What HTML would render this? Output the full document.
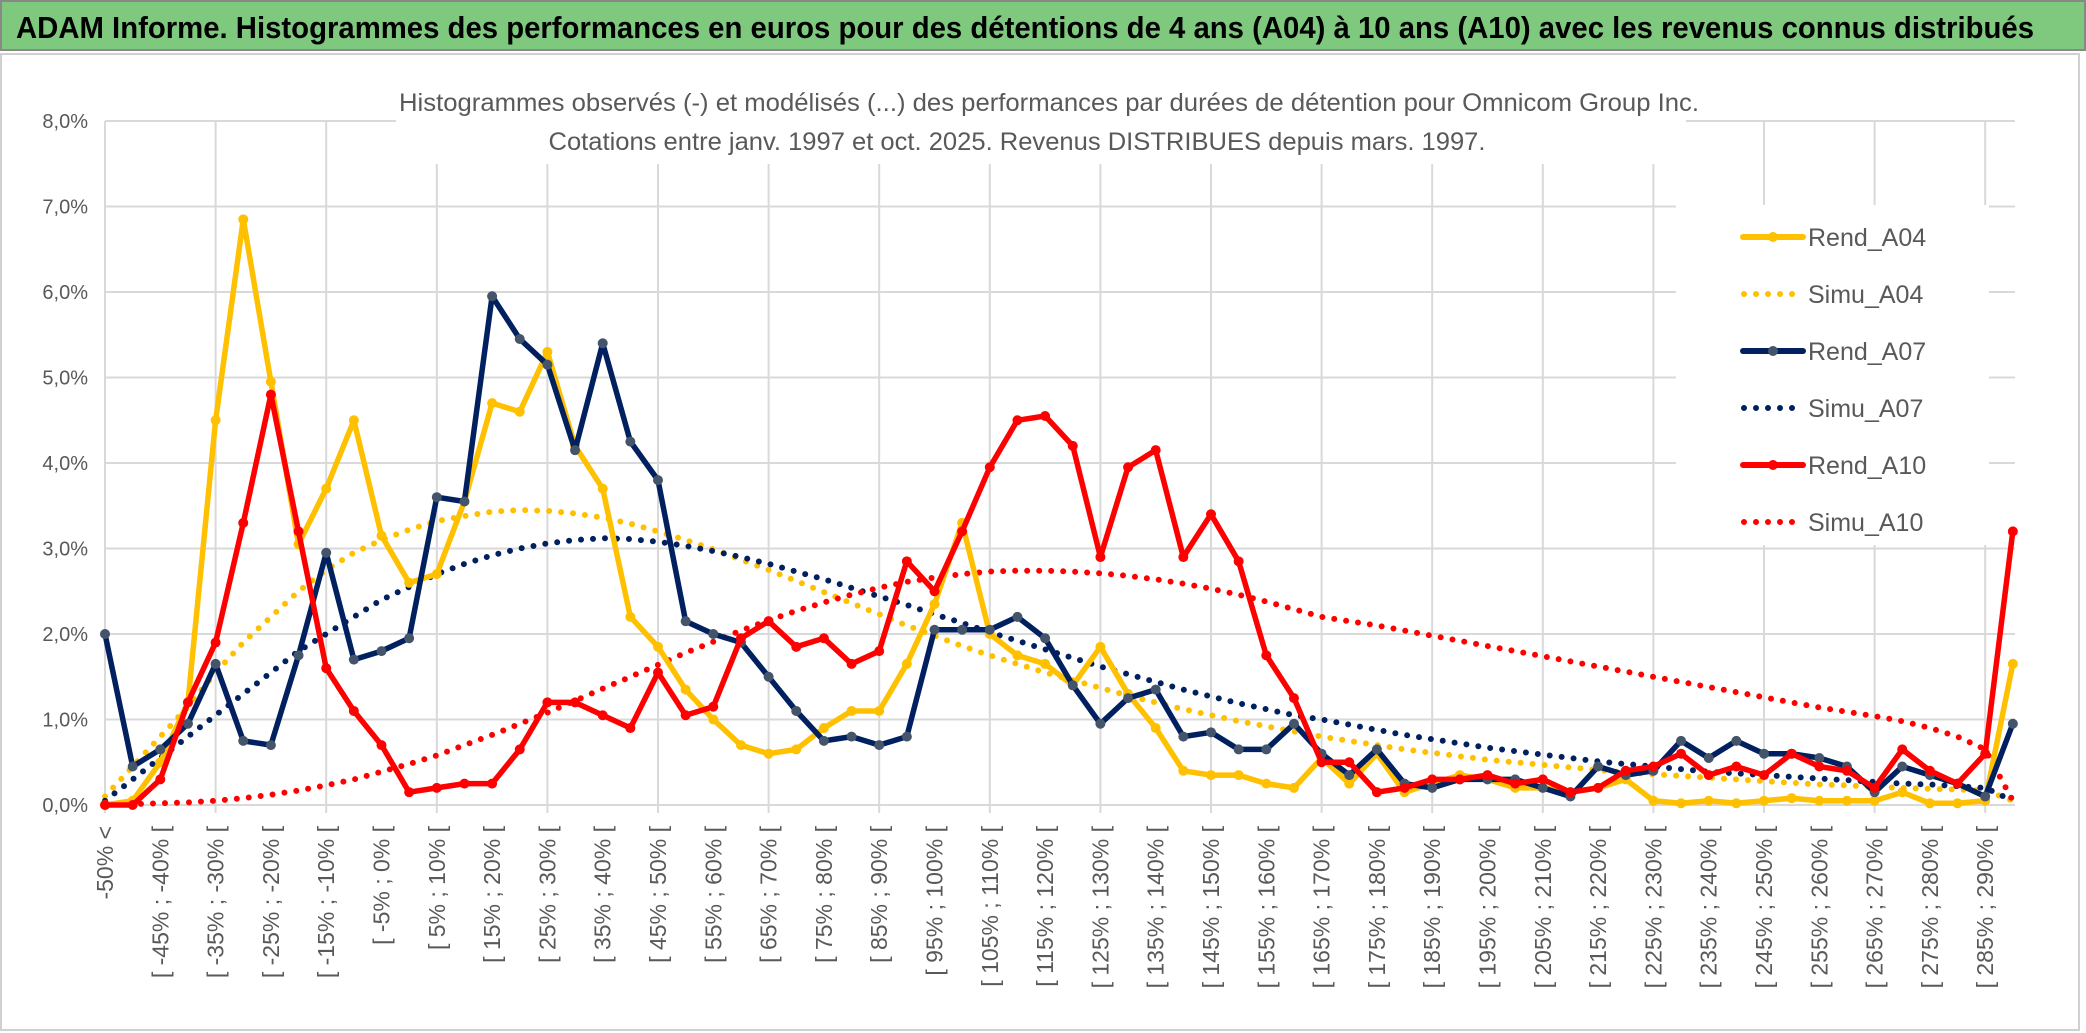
<!DOCTYPE html>
<html><head><meta charset="utf-8"><style>
html,body{margin:0;padding:0;background:#fff;}
svg{display:block;font-family:"Liberation Sans",sans-serif;}
</style></head><body>
<svg id="chart" width="2086" height="1033" viewBox="0 0 2086 1033" xmlns="http://www.w3.org/2000/svg">
<rect x="0" y="0" width="2086" height="1033" fill="#fff"/>
<rect x="1" y="1" width="2084" height="49" fill="#7fc97f" stroke="#888" stroke-width="2"/>
<text x="16" y="38" font-size="31" font-weight="bold" fill="#000" textLength="2018" lengthAdjust="spacingAndGlyphs">ADAM Informe. Histogrammes des performances en euros pour des détentions de 4 ans (A04) à 10 ans (A10) avec les revenus connus distribués</text>
<rect x="1" y="54" width="2078" height="976" fill="none" stroke="#d0d0d0" stroke-width="2"/>
<g id="grid"></g>
<rect x="396" y="60" width="1290" height="104" fill="#fff"/>
<text x="1049" y="111" font-size="25" fill="#595959" text-anchor="middle" textLength="1300" lengthAdjust="spacingAndGlyphs">Histogrammes observés (-) et modélisés (...) des performances par durées de détention pour Omnicom Group Inc.</text>
<text x="1017" y="150" font-size="25" fill="#595959" text-anchor="middle" textLength="937" lengthAdjust="spacingAndGlyphs">Cotations entre janv. 1997 et oct. 2025. Revenus DISTRIBUES depuis mars. 1997.</text>
<g id="axes"></g>
<g id="series"></g>
<rect x="1676" y="205" width="313" height="340" fill="#fff"/>
<g id="legend"></g>
</svg>
<script>
const categories = ["-50% <","[ -50% ; -45% [","[ -45% ; -40% [","[ -40% ; -35% [","[ -35% ; -30% [","[ -30% ; -25% [","[ -25% ; -20% [","[ -20% ; -15% [","[ -15% ; -10% [","[ -10% ; -5% [","[ -5% ; 0% [","[ 0% ; 5% [","[ 5% ; 10% [","[ 10% ; 15% [","[ 15% ; 20% [","[ 20% ; 25% [","[ 25% ; 30% [","[ 30% ; 35% [","[ 35% ; 40% [","[ 40% ; 45% [","[ 45% ; 50% [","[ 50% ; 55% [","[ 55% ; 60% [","[ 60% ; 65% [","[ 65% ; 70% [","[ 70% ; 75% [","[ 75% ; 80% [","[ 80% ; 85% [","[ 85% ; 90% [","[ 90% ; 95% [","[ 95% ; 100% [","[ 100% ; 105% [","[ 105% ; 110% [","[ 110% ; 115% [","[ 115% ; 120% [","[ 120% ; 125% [","[ 125% ; 130% [","[ 130% ; 135% [","[ 135% ; 140% [","[ 140% ; 145% [","[ 145% ; 150% [","[ 150% ; 155% [","[ 155% ; 160% [","[ 160% ; 165% [","[ 165% ; 170% [","[ 170% ; 175% [","[ 175% ; 180% [","[ 180% ; 185% [","[ 185% ; 190% [","[ 190% ; 195% [","[ 195% ; 200% [","[ 200% ; 205% [","[ 205% ; 210% [","[ 210% ; 215% [","[ 215% ; 220% [","[ 220% ; 225% [","[ 225% ; 230% [","[ 230% ; 235% [","[ 235% ; 240% [","[ 240% ; 245% [","[ 245% ; 250% [","[ 250% ; 255% [","[ 255% ; 260% [","[ 260% ; 265% [","[ 265% ; 270% [","[ 270% ; 275% [","[ 275% ; 280% [","[ 280% ; 285% [","[ 285% ; 290% [","> 290%"];
const yTicks = [0,1,2,3,4,5,6,7,8];
const yTickLabels = ["0,0%","1,0%","2,0%","3,0%","4,0%","5,0%","6,0%","7,0%","8,0%"];
const rendA04 = [0,0.05,0.5,1.2,4.5,6.85,4.95,3.05,3.7,4.5,3.15,2.6,2.7,3.55,4.7,4.6,5.3,4.2,3.7,2.2,1.85,1.35,1.0,0.7,0.6,0.65,0.9,1.1,1.1,1.65,2.35,3.3,2.0,1.75,1.65,1.4,1.85,1.3,0.9,0.4,0.35,0.35,0.25,0.2,0.55,0.25,0.6,0.15,0.25,0.35,0.3,0.2,0.2,0.15,0.2,0.3,0.05,0.02,0.05,0.02,0.05,0.08,0.05,0.05,0.05,0.15,0.02,0.02,0.05,1.65];
const simuA04 = [0.1,0.45,0.8,1.15,1.55,1.9,2.2,2.5,2.75,2.95,3.1,3.22,3.32,3.38,3.43,3.45,3.44,3.41,3.36,3.29,3.2,3.1,2.99,2.87,2.75,2.62,2.49,2.36,2.23,2.1,1.98,1.86,1.75,1.65,1.55,1.46,1.37,1.28,1.2,1.12,1.05,0.98,0.92,0.86,0.8,0.75,0.7,0.65,0.61,0.57,0.53,0.5,0.47,0.44,0.41,0.38,0.36,0.34,0.32,0.3,0.28,0.26,0.24,0.23,0.21,0.2,0.19,0.18,0.17,0.05];
const rendA07 = [2.0,0.45,0.65,0.95,1.65,0.75,0.7,1.75,2.95,1.7,1.8,1.95,3.6,3.55,5.95,5.45,5.15,4.15,5.4,4.25,3.8,2.15,2.0,1.9,1.5,1.1,0.75,0.8,0.7,0.8,2.05,2.05,2.05,2.2,1.95,1.4,0.95,1.25,1.35,0.8,0.85,0.65,0.65,0.95,0.6,0.35,0.65,0.25,0.2,0.3,0.3,0.3,0.2,0.1,0.45,0.35,0.4,0.75,0.55,0.75,0.6,0.6,0.55,0.45,0.15,0.45,0.35,0.25,0.1,0.95];
const simuA07 = [0.05,0.3,0.55,0.8,1.05,1.3,1.55,1.8,2.0,2.2,2.4,2.55,2.7,2.82,2.92,3.0,3.06,3.1,3.12,3.11,3.08,3.03,2.97,2.9,2.82,2.73,2.64,2.54,2.44,2.34,2.23,2.13,2.02,1.92,1.82,1.72,1.62,1.53,1.44,1.35,1.27,1.19,1.12,1.05,1.0,0.94,0.88,0.82,0.77,0.72,0.67,0.63,0.59,0.55,0.51,0.48,0.45,0.42,0.39,0.37,0.35,0.33,0.31,0.29,0.27,0.25,0.24,0.22,0.2,0.05];
const rendA10 = [0,0,0.3,1.2,1.9,3.3,4.8,3.2,1.6,1.1,0.7,0.15,0.2,0.25,0.25,0.65,1.2,1.2,1.05,0.9,1.55,1.05,1.15,1.95,2.15,1.85,1.95,1.65,1.8,2.85,2.5,3.2,3.95,4.5,4.55,4.2,2.9,3.95,4.15,2.9,3.4,2.85,1.75,1.25,0.5,0.5,0.15,0.2,0.3,0.3,0.35,0.25,0.3,0.15,0.2,0.4,0.45,0.6,0.35,0.45,0.35,0.6,0.45,0.4,0.2,0.65,0.4,0.25,0.6,3.2];
const simuA10 = [0,0.01,0.02,0.03,0.05,0.08,0.12,0.17,0.23,0.3,0.39,0.48,0.58,0.7,0.82,0.95,1.08,1.22,1.36,1.5,1.64,1.78,1.91,2.04,2.16,2.27,2.37,2.46,2.54,2.61,2.66,2.7,2.73,2.74,2.74,2.73,2.71,2.68,2.64,2.59,2.53,2.46,2.38,2.29,2.2,2.15,2.1,2.04,1.98,1.92,1.86,1.8,1.74,1.68,1.62,1.56,1.5,1.44,1.38,1.32,1.26,1.2,1.14,1.09,1.04,0.98,0.9,0.8,0.65,0.05];
const seriesNames = ["Rend_A04","Simu_A04","Rend_A07","Simu_A07","Rend_A10","Simu_A10"];

const NS = "http://www.w3.org/2000/svg";
const X0 = 105, DX = 27.65, Y0 = 805, DY = 85.5, XR = 2015;
function xPos(i){ return X0 + i*DX; }
function yPos(v){ return Y0 - v*DY; }
function mk(tag, attrs, parent){ const e = document.createElementNS(NS, tag); for (const k in attrs) e.setAttribute(k, attrs[k]); parent.appendChild(e); return e; }

const grid = document.getElementById('grid');
yTicks.forEach((t) => {
  const l = mk('line', {x1: X0, x2: XR, y1: yPos(t), y2: yPos(t), stroke: '#d9d9d9', 'stroke-width': 2}, grid);
  
  
});
for (let i = 0; i < categories.length; i += 4) {
  const l = mk('line', {x1: xPos(i), x2: xPos(i), y1: yPos(8), y2: Y0 + 8, stroke: '#d9d9d9', 'stroke-width': 2}, grid);
  
  
}

const axes = document.getElementById('axes');
yTicks.forEach((t, k) => {
  const tx = mk('text', {x: 88, y: yPos(t) + 7, 'text-anchor': 'end', 'font-size': 20, fill: '#595959'}, axes);
  tx.textContent = yTickLabels[k];
  
  
});
for (let i = 0; i < categories.length; i += 2) {
  const x = xPos(i) + 8;
  const tx = mk('text', {x: x, y: 826, transform: 'rotate(-90 ' + x + ' 826)', 'text-anchor': 'end', 'font-size': 23, fill: '#595959'}, axes);
  tx.textContent = categories[i];
  
  
}

const S = document.getElementById('series');
function pts(arr){ return arr.map((v, i) => xPos(i).toFixed(1) + ',' + yPos(v).toFixed(1)).join(' '); }
function dotted(arr, color, name){
  const p = mk('polyline', {points: pts(arr), fill: 'none', stroke: color, 'stroke-width': 6, 'stroke-linecap': 'round', 'stroke-dasharray': '0 12'}, S);
  
  
}
function solid(arr, color, mcolor, name){
  const p = mk('polyline', {points: pts(arr), fill: 'none', stroke: color, 'stroke-width': 5.5, 'stroke-linejoin': 'round'}, S);
  
  
  arr.forEach((v, i) => {
    const c = mk('circle', {cx: xPos(i), cy: yPos(v), r: 5, fill: mcolor}, S);
    
    
  });
}
dotted(simuA04, '#ffc000', 'simu-a04-line');
dotted(simuA07, '#002060', 'simu-a07-line');
dotted(simuA10, '#ff0000', 'simu-a10-line');
solid(rendA04, '#ffc000', '#ffc000', 'rend-a04');
solid(rendA07, '#002060', '#44546a', 'rend-a07');
solid(rendA10, '#ff0000', '#ff0000', 'rend-a10');

const L = document.getElementById('legend');
const legendColors = ['#ffc000','#ffc000','#002060','#002060','#ff0000','#ff0000'];
const legendMarker = ['#ffc000',null,'#44546a',null,'#ff0000',null];
seriesNames.forEach((n, k) => {
  const y = 237 + k*57;
  if (k % 2 === 0) {
    const l = mk('line', {x1: 1743, x2: 1803, y1: y, y2: y, stroke: legendColors[k], 'stroke-width': 6, 'stroke-linecap': 'round'}, L);
    
    
    const c = mk('circle', {cx: 1773, cy: y, r: 5, fill: legendMarker[k]}, L);
    
    
  } else {
    const l = mk('line', {x1: 1744, x2: 1800, y1: y, y2: y, stroke: legendColors[k], 'stroke-width': 6, 'stroke-linecap': 'round', 'stroke-dasharray': '0 12'}, L);
    
    
  }
  const t = mk('text', {x: 1808, y: y + 9, 'font-size': 25, fill: '#595959'}, L);
  t.textContent = n;
  
  
});
</script>
</body></html>
